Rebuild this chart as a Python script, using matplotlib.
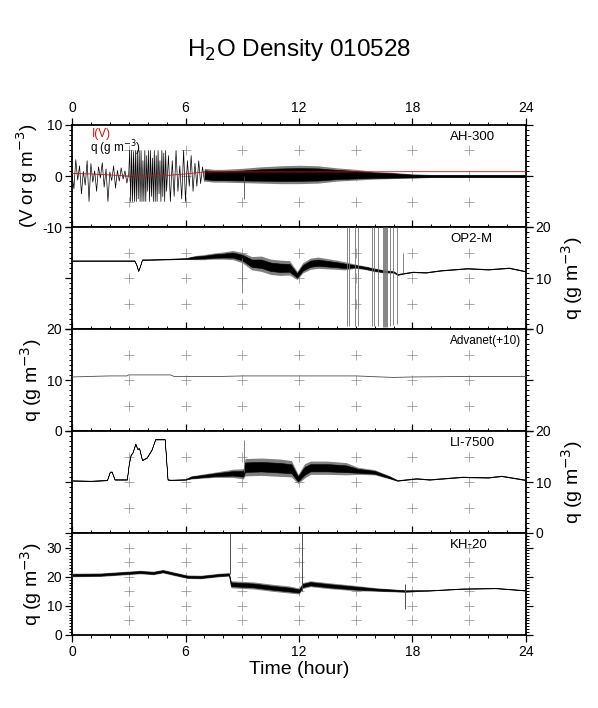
import numpy as np
import matplotlib.pyplot as plt
from matplotlib.ticker import MultipleLocator

plt.rcParams['font.family'] = ['Liberation Sans', 'DejaVu Sans']
plt.rcParams['axes.unicode_minus'] = False

# AH-300 (V or g m-3): spiky part 0-7 h, then min/max band
ah_q_a = [0.3, -2.5, 3.2, -0.8, 2.0, -3.5, 0.9, -1.8, 3.0, -5.0, 2.4, -1.2, 1.0, -3.0, 1.8, -0.4,
          2.6, -2.2, 1.4, -5.0, 0.8, -0.9, 2.0, -2.4, 1.1, -1.0, 1.6, -0.6, 1.0, -1.4, 0.5]
ah_q_b = [5, -5, 5, -5, 4.8, -5, 5, -5, 5, -4.5, 5, -5, 5, -5, 3, -5, 5, -5, 4, -3,
          5, -5, 5, -4, 3.5, -5, 5, -5, 4, -5, 5, -3.5, 3, -5, 5, -4, 4.5, -5, 5, -3]
ah_q_c = [4, -5, 3, -4, 5, -3, 2, -4.5, 5, -5, 3, -2, 4, -3, 2.5, -2, 3, -1.5, 1.8, -1.0]
ah_band_t = [7.0, 7.5, 8, 9, 10, 11, 12, 13, 14, 15, 16, 17, 18, 19, 20, 22, 24]
ah_lo = [-1.0, -1.2, -1.2, -1.3, -1.4, -1.5, -1.5, -1.4, -1.0, -0.8, -0.6, -0.5, -0.4, -0.3, -0.3, -0.3, -0.3]
ah_hi = [1.5, 1.3, 1.3, 1.5, 1.8, 2.0, 2.1, 2.0, 1.6, 1.3, 0.9, 0.7, 0.4, 0.3, 0.3, 0.3, 0.3]
iv_t = [0, 1, 2, 3, 4, 5, 6, 7, 8, 10, 14, 18, 24]
iv_v = [0.5, 0.4, 0.2, 0.0, 0.0, 0.1, 0.4, 0.8, 0.8, 0.8, 0.8, 0.85, 0.85]

# OP2-M
op_t = [0, 3.3, 3.4, 3.5, 3.6, 3.7, 4.0, 5.0, 6.0, 6.5, 7.0, 7.5, 8.0, 8.5, 9.0, 9.5, 10.0, 10.5,
        11.0, 11.5, 11.9, 12.2, 12.6, 13.0, 13.5, 14.0, 14.4, 15.0, 15.5, 16.0, 16.5, 17.0, 17.2,
        17.5, 18.0, 18.7, 19.5, 20.9, 22.0, 23.1, 24.0]
op_c = [13.4, 13.4, 12.6, 11.4, 12.4, 13.6, 13.6, 13.7, 13.8, 14.0, 14.1, 14.3, 14.4, 14.5, 14.0,
        12.9, 12.8, 12.2, 12.0, 12.0, 10.5, 12.0, 12.8, 13.0, 12.8, 12.6, 12.4, 12.3, 12.0, 11.6,
        11.3, 11.2, 10.7, 10.9, 11.2, 11.1, 11.5, 11.9, 11.7, 12.0, 11.3]
op_s = [0.1] * 8 + [0.15, 0.4, 0.5, 0.6, 0.7, 0.9, 1.0, 1.3, 1.5, 1.5, 1.5, 1.4, 0.8, 1.0, 1.1,
                    1.1, 1.0, 0.9, 0.8, 0.4, 0.35, 0.35, 0.3, 0.2, 0.15] + [0.1] * 8
op_spike_t = [9.0, 14.55, 14.66, 14.96, 15.13, 15.84, 15.96, 16.19, 16.45, 16.5, 16.54, 16.6,
              16.63, 16.81, 16.98, 17.19, 17.5]
op_spike_lo = [7.1, 0.5, 0.5, 0.6, 0.5, 0.5, 0.6, 0.5, 0.3, 0.3, 0.3, 0.3, 0.3, 0.5, 0.8, 1.0, 11.0]
op_spike_hi = [14.0, 20, 20, 20, 20, 20, 20, 20, 20, 20, 20, 20, 20, 20, 20, 20, 15.0]

# Advanet (+10)
adv_t = [0, 2.0, 2.9, 3.0, 5.2, 5.4, 8.0, 9.0, 12.0, 15.0, 17.0, 18.0, 21.0, 24.0]
adv_q = [10.6, 10.8, 10.8, 11.0, 11.0, 10.7, 10.7, 10.8, 10.8, 10.8, 10.5, 10.6, 10.7, 10.7]

# LI-7500
li_t = [0, 1.0, 1.85, 2.0, 2.1, 2.25, 2.9, 3.0, 3.1, 3.2, 3.35, 3.45, 3.55, 3.7, 3.95, 4.2, 4.4,
        4.9, 5.05, 5.2, 6.0, 6.3, 7.5, 8.5, 9.05, 9.15, 10.0, 11.0, 11.6, 11.95, 12.3, 12.6, 13.5,
        14.5, 15.1, 16.0, 16.8, 17.2, 18.2, 18.9, 20.6, 22.0, 22.7, 24.0]
li_c = [10.3, 10.2, 10.4, 12.0, 12.0, 10.5, 10.5, 13.5, 15.3, 15.8, 17.5, 16.5, 16.6, 14.3, 14.8,
        16.3, 18.4, 18.4, 10.5, 10.4, 10.5, 10.9, 11.4, 11.7, 11.6, 12.9, 13.0, 12.8, 12.6, 10.6,
        12.2, 12.8, 12.8, 12.6, 12.2, 11.9, 10.9, 10.3, 10.7, 10.5, 11.0, 10.9, 11.2, 10.4]
li_s = [0.1] * 21 + [0.3, 0.5, 0.8, 1.0, 1.7, 1.7, 1.7, 1.6, 0.9, 1.4, 1.3, 1.3, 1.2, 0.7, 0.5,
                     0.3] + [0.1] * 7
li_spike_t = [9.1]
li_spike_lo = [12.0]
li_spike_hi = [18.3]

# KH-20
kh_t = [0, 1.5, 2.9, 3.6, 4.3, 4.8, 5.4, 6.1, 6.8, 7.8, 8.3, 8.4, 9.6, 10.6, 11.5, 12.0, 12.2,
        12.6, 13.6, 15.0, 16.1, 17.6, 18.9, 20.6, 22.4, 24.0]
kh_c = [20.6, 20.7, 21.3, 21.6, 21.3, 21.9, 21.0, 20.0, 19.9, 20.6, 20.8, 17.4, 17.0, 16.2, 15.6,
        15.1, 17.0, 17.6, 16.9, 16.1, 15.6, 15.1, 15.3, 15.9, 16.1, 15.3]
kh_s = [0.6] * 11 + [1.2, 1.2, 1.2, 1.2, 1.0, 1.0, 1.0, 1.0, 0.9, 0.6, 0.4] + [0.15] * 4
kh_spike_t = [8.35, 12.15, 17.6]
kh_spike_lo = [20.8, 15.0, 9.0]
kh_spike_hi = [35, 35, 17.4]

W, H = 598, 708
fig = plt.figure(figsize=(W / 100, H / 100), dpi=100)

panel_px = [(125, 227), (227, 329), (329, 431), (431, 533), (533, 635)]
x0, x1 = 72, 526
axes = []
for top, bot in panel_px:
    ax = fig.add_axes([x0 / W, 1 - bot / H, (x1 - x0) / W, (bot - top) / H])
    axes.append(ax)

ylims = [(-10, 10), (0, 20), (0, 20), (0, 20), (0, 35)]
label_side = ['left', 'right', 'left', 'right', 'left']
names = ['AH-300', 'OP2-M', 'Advanet(+10)', 'LI-7500', 'KH-20']
qlabel = 'q (g m$^{-3}$)'


def band(ax, t, c, s, core=0.55):
    # gray hairs out to the full spread, black core inside
    c, s = np.asarray(c), np.asarray(s)
    ax.fill_between(t, c - s, c + s, color='0.5', lw=0, zorder=3)
    ax.fill_between(t, c - core * s, c + core * s, color='k', lw=0.4, zorder=3)


for i, ax in enumerate(axes):
    lo, hi = ylims[i]
    ax.set_xlim(0, 24)
    ax.set_ylim(lo, hi)
    for s in ax.spines.values():
        s.set_linewidth(1.3)
    ax.xaxis.set_major_locator(MultipleLocator(6))
    ax.xaxis.set_minor_locator(MultipleLocator(1))
    ax.yaxis.set_major_locator(MultipleLocator(10))
    ax.yaxis.set_minor_locator(MultipleLocator(1))
    ax.tick_params(which='both', direction='out', top=True, bottom=True, left=True, right=True,
                   labeltop=(i == 0), labelbottom=(i == 4),
                   labelleft=(label_side[i] == 'left'), labelright=(label_side[i] == 'right'),
                   labelsize=10, width=0.9, pad=2)
    ax.tick_params(which='major', length=5)
    ax.tick_params(which='minor', length=2.5, width=0.7)
    # "+" grid marks
    gx = np.arange(3, 22, 3)
    gy = np.arange(lo + 5, hi, 5)
    GX, GY = np.meshgrid(gx, gy)
    ax.plot(GX.ravel(), GY.ravel(), '+', ms=6.5, mew=0.5, color='0.55', zorder=1)
    fs = 8.5 if i == 2 else 9.5
    ax.text(20.0, 0.885, names[i], transform=ax.get_xaxis_transform(), fontsize=fs,
            ha='left', va='center')

# AH-300
ax = axes[0]
ah_t = np.concatenate([np.linspace(0, 3.0, len(ah_q_a)), np.linspace(3.05, 5.0, len(ah_q_b)),
                       np.linspace(5.1, 7.0, len(ah_q_c))])
ah_q = np.concatenate([ah_q_a, ah_q_b, ah_q_c])
ax.plot(ah_t, ah_q, color='k', lw=0.5, zorder=3)
ah_mid = (np.array(ah_lo) + np.array(ah_hi)) / 2
ah_half = (np.array(ah_hi) - np.array(ah_lo)) / 2
band(ax, ah_band_t, ah_mid, ah_half, core=0.7)
ax.vlines(9.1, -4.5, 0, color='0.3', lw=0.6, zorder=3)
ax.plot(iv_t, iv_v, color='#d01010', lw=0.6, zorder=4)
ax.text(1.05, 8.3, 'I(V)', color='#d01010', fontsize=8.5, va='center')
ax.text(0.95, 5.4, qlabel, color='k', fontsize=8.5, va='center')
ax.set_ylabel('(V or g m$^{-3}$)', fontsize=13.5)

# OP2-M
ax = axes[1]
band(ax, op_t, op_c, op_s)
ax.vlines(op_spike_t, op_spike_lo, op_spike_hi, color='0.45', lw=0.6, zorder=3)
ax.set_ylabel(qlabel, fontsize=14)
ax.yaxis.set_label_position('right')

# Advanet
ax = axes[2]
ax.plot(adv_t, adv_q, color='0.3', lw=0.6, zorder=3)
ax.set_ylabel(qlabel, fontsize=14)

# LI-7500
ax = axes[3]
band(ax, li_t, li_c, li_s)
ax.vlines(li_spike_t, li_spike_lo, li_spike_hi, color='0.45', lw=0.6, zorder=3)
ax.set_ylabel(qlabel, fontsize=14)
ax.yaxis.set_label_position('right')

# KH-20
ax = axes[4]
band(ax, kh_t, kh_c, kh_s)
ax.vlines(kh_spike_t, kh_spike_lo, kh_spike_hi, color='0.3', lw=0.7, zorder=3)
ax.set_ylabel(qlabel, fontsize=14)
ax.set_xlabel('Time (hour)', fontsize=14, labelpad=2)

for i, (ax, side) in enumerate(zip(axes, label_side)):
    if side == 'left':
        lx = 40 if i == 0 else 44
        ax.yaxis.set_label_coords((lx - x0) / (x1 - x0), 0.5)
    else:
        ax.yaxis.set_label_coords((559 - x0) / (x1 - x0), 0.5)

fig.text(0.5, 1 - 50 / H, 'H$_2$O Density 010528', ha='center', va='center', fontsize=17.5)

fig.savefig('out.png', dpi=100)
